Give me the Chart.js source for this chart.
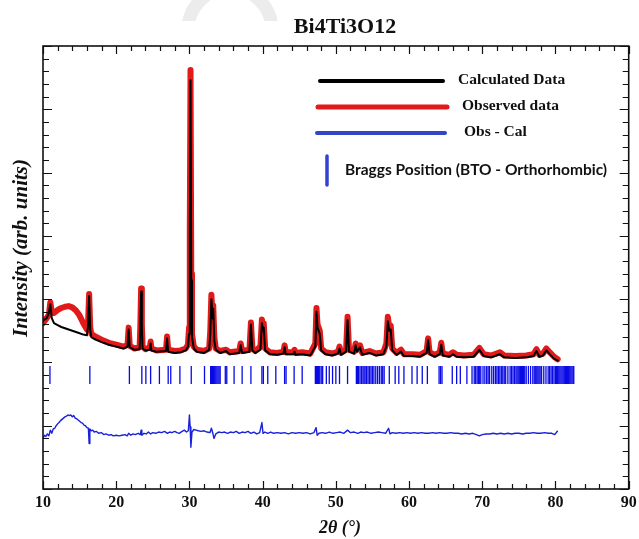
<!DOCTYPE html>
<html>
<head>
<meta charset="utf-8">
<script src="https://cdn.jsdelivr.net/npm/chart.js@4/dist/chart.umd.min.js"></script>
<style>
  body{margin:0;background:#fff;}
  #wrap{width:639px;height:539px;}
</style>
</head>
<body>
<div id="wrap"><canvas id="xrd" width="639" height="539"></canvas></div>
<script>
// 2-theta grid shared by observed and calculated profiles
const twoTheta = [10.0,10.5,10.8,11.0,11.2,11.5,12.0,12.5,13.0,13.5,14.0,14.5,15.0,15.5,16.0,16.15,16.3,16.45,16.6,17.0,
  18.0,19.0,20.0,21.0,21.55,21.7,21.85,22.5,23.2,23.3,23.4,23.5,23.6,24.0,24.6,24.7,24.8,25.5,26.8,26.95,
  27.1,28.0,28.8,29.5,29.8,29.95,30.05,30.15,30.25,30.35,30.6,31.0,32.0,32.7,32.85,33.0,33.15,33.25,33.4,33.6,
  34.2,35.0,35.5,36.8,37.0,37.2,38.2,38.4,38.6,39.0,39.7,39.9,40.05,40.15,40.35,41.0,42.0,42.85,43.0,43.15,
  44.2,44.35,44.5,45.4,46.5,47.2,47.35,47.5,47.8,48.0,48.6,49.5,50.3,50.5,50.7,51.4,51.6,51.8,52.5,52.7,
  52.9,53.3,53.6,54.6,55.5,56.5,56.9,57.1,57.3,57.5,57.7,58.3,58.9,59.3,60.5,61.5,62.4,62.6,62.8,63.5,
  64.2,64.4,64.6,65.5,66.0,66.5,67.5,68.8,69.6,70.2,71.2,72.4,73.0,74.5,76.0,77.0,77.4,77.8,78.3,78.75,
  79.3,79.8,80.3];
const observed = [2.62,2.70,2.75,2.95,2.80,2.78,2.83,2.86,2.88,2.89,2.87,2.82,2.74,2.62,2.52,2.60,3.08,2.55,2.45,2.42,
  2.36,2.31,2.28,2.25,2.28,2.55,2.26,2.22,2.24,2.60,3.17,2.60,2.25,2.21,2.24,2.33,2.22,2.19,2.20,2.41,
  2.20,2.18,2.19,2.22,2.28,2.55,4.10,6.62,3.40,2.45,2.25,2.20,2.18,2.22,2.50,3.07,2.75,2.90,2.40,2.22,
  2.18,2.20,2.16,2.18,2.30,2.18,2.20,2.63,2.22,2.18,2.25,2.68,2.55,2.62,2.22,2.16,2.15,2.17,2.27,2.16,
  2.16,2.20,2.15,2.16,2.14,2.30,2.86,2.60,2.50,2.22,2.16,2.14,2.17,2.25,2.15,2.20,2.72,2.20,2.17,2.30,
  2.20,2.27,2.15,2.18,2.14,2.16,2.30,2.72,2.55,2.58,2.22,2.15,2.20,2.13,2.13,2.12,2.18,2.38,2.16,2.12,
  2.16,2.31,2.14,2.12,2.16,2.12,2.11,2.12,2.23,2.13,2.11,2.16,2.11,2.10,2.11,2.13,2.21,2.12,2.14,2.22,
  2.15,2.09,2.05];
const calculated = [2.66,2.70,2.78,2.92,2.70,2.62,2.59,2.56,2.54,2.52,2.50,2.48,2.46,2.44,2.43,2.56,3.05,2.52,2.40,2.37,
  2.32,2.28,2.25,2.22,2.25,2.52,2.24,2.20,2.21,2.55,3.12,2.55,2.22,2.19,2.20,2.30,2.19,2.17,2.18,2.38,
  2.17,2.15,2.16,2.19,2.25,2.45,3.90,6.46,3.30,2.40,2.22,2.17,2.15,2.20,2.45,3.00,2.70,2.85,2.35,2.20,
  2.15,2.18,2.13,2.15,2.27,2.15,2.17,2.60,2.19,2.15,2.20,2.62,2.50,2.55,2.19,2.13,2.12,2.14,2.24,2.13,
  2.13,2.17,2.12,2.13,2.11,2.25,2.80,2.55,2.45,2.19,2.13,2.11,2.14,2.22,2.12,2.17,2.67,2.17,2.14,2.27,
  2.17,2.24,2.12,2.15,2.11,2.13,2.25,2.65,2.50,2.52,2.19,2.12,2.17,2.10,2.10,2.09,2.15,2.35,2.13,2.09,
  2.13,2.28,2.11,2.09,2.13,2.09,2.08,2.09,2.20,2.10,2.08,2.13,2.08,2.07,2.08,2.10,2.18,2.09,2.11,2.19,
  2.12,2.06,2.03];

// difference curve (shifted down), read separately
const diffX = [10.0,10.2,10.4,10.6,10.8,11.0,11.2,11.4,11.6,11.8,12.0,12.2,12.4,12.6,12.8,13.0,13.2,13.4,13.6,13.8,
  14.0,14.2,14.4,14.6,14.8,15.0,15.2,15.4,15.6,15.8,16.0,16.2,16.3,16.4,16.6,16.8,17.0,17.3,17.6,18.0,
  18.3,18.6,19.0,19.3,19.6,20.0,20.4,20.8,21.2,21.5,21.7,22.0,22.3,22.6,23.0,23.3,23.4,23.5,23.8,24.1,
  24.4,24.7,25.0,25.4,25.8,26.2,26.6,27.0,27.3,27.6,28.0,28.3,28.6,29.0,29.3,29.6,29.85,30.0,30.1,30.2,
  30.35,30.6,30.9,31.2,31.6,32.0,32.4,32.8,33.0,33.2,33.35,33.6,34.0,34.4,34.8,35.2,35.6,36.0,36.4,36.8,
  37.2,37.6,38.0,38.4,38.8,39.2,39.6,39.9,40.05,40.3,40.7,41.1,41.5,42.0,42.5,43.0,43.5,44.0,44.5,45.0,
  45.5,46.0,46.5,47.0,47.3,47.45,47.7,48.1,48.6,49.1,49.6,50.1,50.6,51.1,51.6,52.0,52.5,53.0,53.4,53.8,
  54.3,54.8,55.3,55.8,56.3,56.8,57.2,57.4,57.7,58.2,58.7,59.2,59.7,60.2,60.7,61.2,61.7,62.2,62.7,63.2,
  63.7,64.2,64.7,65.2,65.7,66.2,66.7,67.2,67.7,68.2,68.7,69.2,69.6,70.0,70.5,71.0,71.5,72.0,72.5,73.0,
  73.5,74.0,74.5,75.0,75.5,76.0,76.5,77.0,77.5,78.0,78.5,79.0,79.5,79.9,80.3];
const diffY = [0.80,0.85,0.83,0.87,0.84,0.93,0.88,0.95,0.96,1.00,1.03,1.05,1.08,1.10,1.12,1.14,1.15,1.17,1.16,1.17,
  1.14,1.16,1.12,1.11,1.09,1.07,1.05,1.04,1.01,1.00,0.97,0.96,0.72,0.95,0.92,0.93,0.90,0.91,0.88,0.89,
  0.86,0.87,0.85,0.86,0.84,0.85,0.84,0.85,0.86,0.84,0.88,0.85,0.87,0.86,0.88,0.86,0.93,0.85,0.88,0.87,
  0.90,0.87,0.89,0.88,0.90,0.89,0.91,0.88,0.90,0.89,0.91,0.89,0.88,0.91,0.93,0.90,0.92,1.17,0.98,0.66,
  0.90,0.94,0.93,0.92,0.91,0.92,0.90,0.89,0.96,0.88,0.80,0.87,0.90,0.89,0.90,0.88,0.90,0.89,0.91,0.88,
  0.90,0.89,0.91,0.88,0.90,0.87,0.89,1.05,0.88,0.90,0.88,0.90,0.88,0.89,0.88,0.89,0.87,0.89,0.88,0.89,
  0.88,0.89,0.87,0.89,0.97,0.85,0.88,0.89,0.88,0.90,0.88,0.89,0.90,0.88,0.93,0.89,0.90,0.88,0.90,0.89,
  0.90,0.88,0.89,0.90,0.89,0.88,0.96,0.87,0.89,0.88,0.89,0.88,0.89,0.88,0.89,0.88,0.89,0.88,0.88,0.89,
  0.88,0.89,0.88,0.88,0.89,0.88,0.88,0.87,0.88,0.87,0.88,0.86,0.84,0.86,0.87,0.87,0.88,0.87,0.88,0.87,
  0.88,0.87,0.88,0.88,0.87,0.88,0.88,0.89,0.88,0.88,0.89,0.88,0.88,0.86,0.92];

// Bragg reflection positions (2-theta)
const braggPos = [10.95,16.4,21.8,23.5,24.05,24.7,25.9,27.1,27.45,28.7,30.25,32.06,32.9,33.0,33.15,33.3,33.45,33.6,33.75,33.9,
  34.05,34.2,34.9,35.1,36.1,37.2,38.4,39.9,40.1,40.7,41.8,43.0,43.2,44.3,45.4,47.2,47.35,47.5,47.65,47.8,
  48.0,48.2,48.7,49.1,49.55,50.0,50.5,51.6,52.8,52.95,53.1,53.3,53.5,53.7,53.85,54.0,54.2,54.4,54.6,54.8,
  55.0,55.2,55.45,55.7,55.95,56.2,56.4,56.6,57.3,58.1,58.6,59.3,60.4,61.1,61.8,62.5,64.1,64.3,64.5,65.9,
  66.5,67.0,67.9,68.6,68.9,69.1,69.3,69.5,69.65,69.8,70.1,70.35,70.6,70.8,71.0,71.3,71.55,71.8,72.0,72.2,
  72.4,72.6,72.8,73.0,73.2,73.5,73.8,74.0,74.2,74.4,74.6,74.75,74.9,75.05,75.2,75.35,75.5,75.65,75.8,76.0,
  76.3,76.6,76.9,77.1,77.3,77.45,77.6,77.75,77.9,78.1,78.4,78.7,79.0,79.2,79.4,79.6,79.8,80.0,80.15,80.3,
  80.45,80.6,80.75,80.9,81.05,81.2,81.35,81.5,81.65,81.8,81.95,82.1,82.25,82.4,82.5];
const braggLevel = 1.8;

const xTickLabels = [10,20,30,40,50,60,70,80,90];

const legendItems = ['Calculated Data','Observed data','Obs - Cal'];
const braggLabel = 'Braggs Position (BTO - Orthorhombic)';
const chartTitle = 'Bi4Ti3O12';

const RED = '#e21a1a', BLACK = '#000000', BLUE = '#1a22d8', BRAGG = '#0a0ae6';

const pts = (xs, ys) => xs.map((x,i)=>({x, y: ys[i]}));

const framePlugin = {
  id:'frame',
  beforeDraw(chart){
    const ctx = chart.ctx;
    ctx.save();
    // faint watermark arc at the top
    ctx.beginPath(); ctx.rect(0,0,639,21); ctx.clip();
    ctx.strokeStyle = '#ececec'; ctx.lineWidth = 13;
    ctx.beginPath(); ctx.arc(230,30,42,Math.PI,2*Math.PI); ctx.stroke();
    ctx.restore();
  },
  afterDraw(chart){
    const ctx = chart.ctx, a = chart.chartArea;
    const xs = chart.scales.x, ys = chart.scales.y;
    ctx.save();
    ctx.strokeStyle = '#111'; ctx.lineWidth = 1.6;
    ctx.strokeRect(a.left, a.top, a.right-a.left, a.bottom-a.top);

    // ticks pointing inward, on all four sides
    ctx.lineWidth = 1.2;
    ctx.beginPath();
    for(let v = xs.min; v <= xs.max + 1e-9; v += 2){
      const px = Math.round(xs.getPixelForValue(v)) + 0.5;
      const len = (v % 10 === 0) ? 8 : 5;
      ctx.moveTo(px, a.bottom); ctx.lineTo(px, a.bottom - len);
      ctx.moveTo(px, a.top); ctx.lineTo(px, a.top + len);
    }
    for(let k = 0; k <= 35; k++){
      const v = k * 0.2;
      const py = Math.round(ys.getPixelForValue(v)) + 0.5;
      const len = (k % 5 === 0) ? 9 : 6;
      ctx.moveTo(a.left, py); ctx.lineTo(a.left + len, py);
      ctx.moveTo(a.right, py); ctx.lineTo(a.right - len, py);
    }
    ctx.stroke();

    // x tick labels
    ctx.fillStyle = '#111';
    ctx.font = 'bold 16px "Liberation Serif"';
    ctx.textAlign = 'center'; ctx.textBaseline = 'middle';
    xTickLabels.forEach(v => ctx.fillText(String(v), xs.getPixelForValue(v), 503));

    // axis titles
    ctx.font = 'italic bold 18px "Liberation Serif"';
    ctx.fillText('2\u03B8 (\u00B0)', 340, 528);
    ctx.save();
    ctx.translate(22, 248); ctx.rotate(-Math.PI/2);
    ctx.font = 'italic bold 21px "Liberation Serif"';
    ctx.fillText('Intensity (arb. units)', 0, 0);
    ctx.restore();

    // chart title
    ctx.font = 'bold 22px "Liberation Serif"';
    ctx.fillText(chartTitle, 345, 27);

    // legend
    const colors = [BLACK, RED, '#3345c8'];
    const widths = [4, 5, 4];
    const rows = [[320,443,81,458],[318,447,107,462],[317,445,133,464]];
    ctx.textAlign = 'left';
    ctx.font = 'bold 15.5px "Liberation Serif"';
    rows.forEach((r,i)=>{
      ctx.strokeStyle = colors[i]; ctx.lineWidth = widths[i]; ctx.lineCap = 'round';
      ctx.beginPath(); ctx.moveTo(r[0], r[2]); ctx.lineTo(r[1], r[2]); ctx.stroke();
      ctx.fillStyle = '#111';
      ctx.fillText(legendItems[i], r[3], r[2] - 1);
    });
    ctx.strokeStyle = '#3340d0'; ctx.lineWidth = 3.5;
    ctx.beginPath(); ctx.moveTo(327, 156); ctx.lineTo(327, 185); ctx.stroke();
    ctx.fillStyle = '#111';
    ctx.font = 'bold 15.5px Lato';
    ctx.fillText(braggLabel, 345, 170);
    ctx.restore();
  }
};

new Chart(document.getElementById('xrd').getContext('2d'), {
  type:'scatter',
  data:{
    datasets:[
      { label:'Calculated Data', data: pts(twoTheta, calculated), showLine:true,
        borderColor:BLACK, borderWidth:2, borderJoinStyle:'round', borderCapStyle:'round',
        pointRadius:0, tension:0 },
      { label:'Observed data', data: pts(twoTheta, observed), showLine:true,
        borderColor:RED, backgroundColor:RED, borderWidth:6, borderJoinStyle:'round', borderCapStyle:'round',
        pointRadius:2, pointBorderWidth:0, tension:0 },
      { label:'Obs - Cal', data: pts(diffX, diffY), showLine:true,
        borderColor:BLUE, borderWidth:1.4, borderJoinStyle:'round', pointRadius:0, tension:0 },
      { label:'Braggs Position', data: braggPos.map(x=>({x, y: braggLevel})), showLine:false,
        pointStyle:'line', rotation:90, pointRadius:9, borderColor:BRAGG, pointBorderColor:BRAGG,
        pointBorderWidth:1.3, pointHoverRadius:9 }
    ]
  },
  options:{
    responsive:false,
    animation:false,
    layout:{ padding:{ left:43, right:6, top:46, bottom:50 } },
    plugins:{ legend:{ display:false }, tooltip:{ enabled:false } },
    scales:{
      x:{ type:'linear', min:10, max:90, display:false },
      y:{ type:'linear', min:0, max:7, display:false }
    }
  },
  plugins:[framePlugin]
});
</script>
</body>
</html>
